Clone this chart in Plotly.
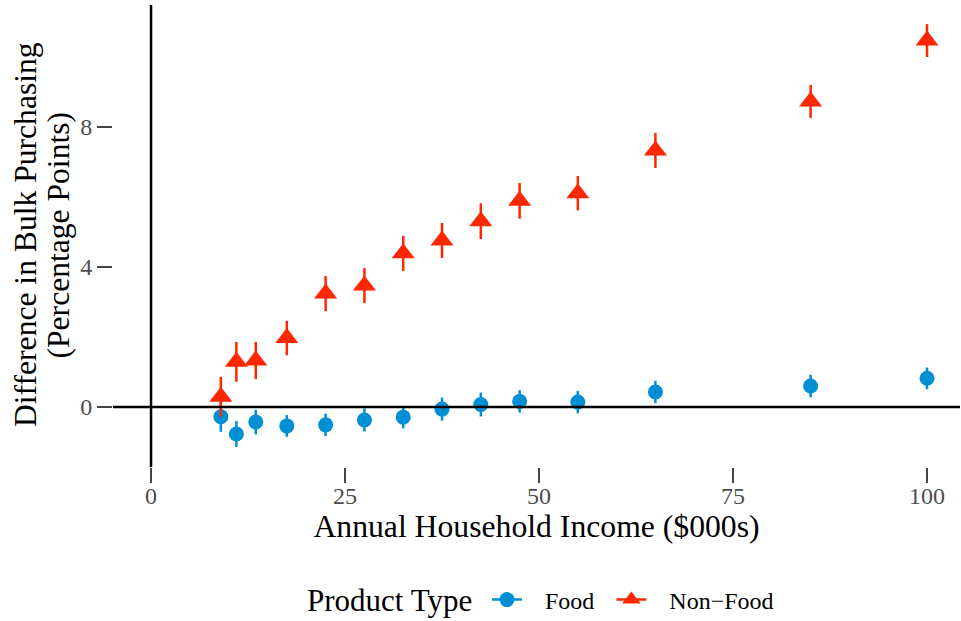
import plotly.graph_objects as go

# Annual household income ($000s), midpoints of income bins
income = [9, 11, 13.5, 17.5, 22.5, 27.5, 32.5, 37.5, 42.5, 47.5, 55, 65, 85, 100]

# Difference in bulk purchasing (percentage points)
food = [-0.28, -0.77, -0.43, -0.54, -0.51, -0.37, -0.29, -0.06, 0.07, 0.16, 0.14, 0.43, 0.60, 0.82]
food_err = [0.43, 0.37, 0.35, 0.31, 0.32, 0.33, 0.32, 0.33, 0.34, 0.32, 0.32, 0.32, 0.32, 0.31]

nonfood = [0.29, 1.29, 1.33, 1.97, 3.24, 3.47, 4.39, 4.76, 5.31, 5.89, 6.11, 7.33, 8.73, 10.47]
nonfood_err = [0.57, 0.57, 0.53, 0.49, 0.50, 0.50, 0.50, 0.50, 0.51, 0.51, 0.49, 0.50, 0.47, 0.47]

x_ticks = [0, 25, 50, 75, 100]
y_ticks = [0, 4, 8]

y_title_lines = ["Difference in Bulk Purchasing", "(Percentage Points)"]

BLUE = "#008FD5"
RED = "#FF2700"
FONT = "Liberation Serif"
NB = "\u00a0"

# plot-area geometry (pixels)
L, R, T, B = 113, 1, 5, 154
W, H = 961, 621
PW, PH = W - L - R, H - T - B


def px_x(p):
    return (p - L) / PW


def px_y(p):
    return (H - B - p) / PH


fig = go.Figure()

fig.add_trace(go.Scatter(
    x=income, y=food, mode="markers", name="Food", showlegend=False,
    marker=dict(symbol="circle", size=15, color=BLUE, line=dict(width=0)),
    error_y=dict(type="data", array=food_err, visible=True, color=BLUE, thickness=2.5, width=0),
))
fig.add_trace(go.Scatter(
    x=income, y=nonfood, mode="markers", name="Non−Food", showlegend=False,
    marker=dict(symbol="triangle-up", size=20, color=RED, line=dict(width=0)),
    error_y=dict(type="data", array=nonfood_err, visible=True, color=RED, thickness=2.5, width=0),
))

# legend keys (point with a line through it)
fig.add_trace(go.Scatter(
    x=[None], y=[None], mode="lines+markers", name=NB * 3 + "Food" + NB * 2,
    marker=dict(symbol="circle", size=15, color=BLUE), line=dict(color=BLUE, width=2.5),
))
fig.add_trace(go.Scatter(
    x=[None], y=[None], mode="lines+markers", name=NB * 3 + "Non−Food",
    marker=dict(symbol="triangle-up", size=20, color=RED), line=dict(color=RED, width=2.5),
))

# reference lines at x = 0 and y = 0
fig.add_shape(type="line", xref="x", yref="paper", x0=0, x1=0, y0=0, y1=1,
              line=dict(color="black", width=2.5), layer="above")
fig.add_shape(type="line", xref="paper", yref="y", x0=0, x1=1, y0=0, y1=0,
              line=dict(color="black", width=2.5), layer="above")

# legend title
fig.add_annotation(
    text="Product Type", xref="paper", yref="paper", x=px_x(305), y=px_y(600),
    xanchor="left", yanchor="middle", showarrow=False,
    font=dict(family=FONT, size=31, color="black"),
)

# y-axis title (two lines, tight spacing)
for line_text, cx in zip(y_title_lines, [25, 57.5]):
    fig.add_annotation(
        text=line_text, xref="paper", yref="paper", x=px_x(cx), y=px_y(235),
        xanchor="center", yanchor="middle", textangle=-90, showarrow=False,
        font=dict(family=FONT, size=31.6, color="black"),
    )

axis_common = dict(
    showgrid=False, zeroline=False, showline=False, automargin=False,
    ticks="outside", ticklen=15, tickwidth=2, tickcolor="#444444",
    tickfont=dict(family=FONT, size=24, color="#4D4D4D"),
)

fig.update_layout(
    width=W, height=H,
    margin=dict(l=L, r=R, t=T, b=B, autoexpand=False),
    paper_bgcolor="white", plot_bgcolor="white",
    font=dict(family=FONT, color="black"),
    xaxis=dict(
        range=[-4.9, 104.25], tickvals=x_ticks, ticktext=[str(v) for v in x_ticks],
        ticklabelstandoff=-8,
        title=dict(text="Annual Household Income ($000s)", font=dict(family=FONT, size=31.7, color="black"), standoff=0),
        **axis_common,
    ),
    yaxis=dict(
        range=[-1.714, 11.486], tickvals=y_ticks, ticktext=[str(v) for v in y_ticks],
        **axis_common,
    ),
    legend=dict(
        orientation="h", x=px_x(487), xanchor="left", y=px_y(600), yanchor="middle",
        font=dict(family=FONT, size=24, color="black"),
        bgcolor="rgba(0,0,0,0)",
    ),
)

fig.write_html("out.html", config={"displayModeBar": False},
               post_script="document.body.style.margin='0';")
